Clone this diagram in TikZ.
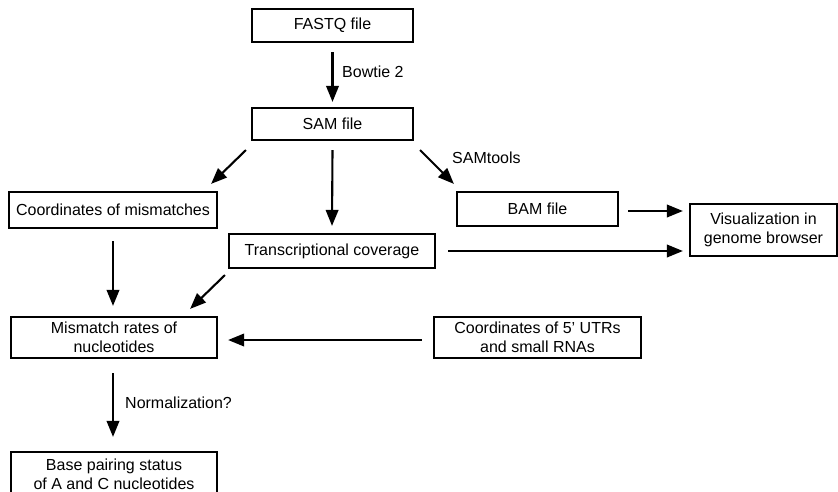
\documentclass[tikz,border=0pt]{standalone}
\usepackage{fontspec}
\setmainfont{Liberation Sans}
\usetikzlibrary{arrows.meta}
\begin{document}
\begin{tikzpicture}[x=1pt,y=-1pt,
  box/.style={draw=black,line width=2.2pt,inner sep=0pt,align=center,
    font=\fontsize{16}{19}\selectfont},
  arr/.style={line width=2.1pt,-{Triangle[length=16pt,width=12.5pt]}},
  lbl/.style={anchor=west,inner sep=0pt,font=\fontsize{16}{19}\selectfont}]
\useasboundingbox (0,0) rectangle (838,491);
\begin{scope}
\clip (0,0) rectangle (838,491);
\node[box,minimum width=161pt,minimum height=33pt] (fastq) at (332.5,25.5) {FASTQ file};
\node[box,minimum width=161pt,minimum height=32pt] (sam) at (332.5,124) {SAM file};
\node[box,minimum width=208pt,minimum height=36pt] (coord) at (113,210) {Coordinates of mismatches};
\node[box,minimum width=206pt,minimum height=34pt] (trans) at (332,251) {Transcriptional coverage};
\node[box,minimum width=161pt,minimum height=34pt] (bam) at (537.5,209) {BAM file};
\node[box,minimum width=147pt,minimum height=52pt] (vis) at (763.5,230) {Visualization in\\genome browser};
\node[box,minimum width=206pt,minimum height=41pt] (mism) at (114,337.5) {Mismatch rates of\\nucleotides};
\node[box,minimum width=207pt,minimum height=41pt] (utr) at (537.5,337.5) {Coordinates of 5' UTRs\\and small RNAs};
\node[box,minimum width=206pt,minimum height=44pt,text depth=0pt] (base) at (114,474) {Base pairing status\\of A and C nucleotides};
\end{scope}

\draw[arr] ([shift={(0,9)}]fastq.south) -- ([shift={(0,-5)}]sam.north);
\node[lbl] (bowtie) at (342,72) {Bowtie 2};

\draw[arr] ([shift={(-5,9)}]sam.south west) -- ([shift={(-7,-7)}]coord.north east);
\draw[arr] ([shift={(0,9)}]sam.south) -- ([shift={(0,-7)}]trans.north);
\draw[arr] ([shift={(6,9)}]sam.south east) -- ([shift={(-2,-7)}]bam.north west);
\node[lbl] (samtools) at (452,158) {SAMtools};

\draw[arr] ([shift={(9,2)}]bam.east) -- ([shift={(-6,-19)}]vis.west);
\draw[arr] ([shift={(12,0)}]trans.east) -- ([shift={(-6,21)}]vis.west);

\draw[arr] ([shift={(0,12)}]coord.south) -- ([shift={(-1,-10)}]mism.north);
\draw[arr] ([shift={(-3,6)}]trans.south west) -- ([shift={(-28,-7)}]mism.north east);
\draw[arr] ([shift={(-11,2.5)}]utr.west) -- ([shift={(10,2.5)}]mism.east);

\draw[arr] ([shift={(-1,14)}]mism.south) -- ([shift={(-1,-14)}]base.north);
\node[lbl] (norm) at (125,403) {Normalization?};
\end{tikzpicture}
\end{document}
